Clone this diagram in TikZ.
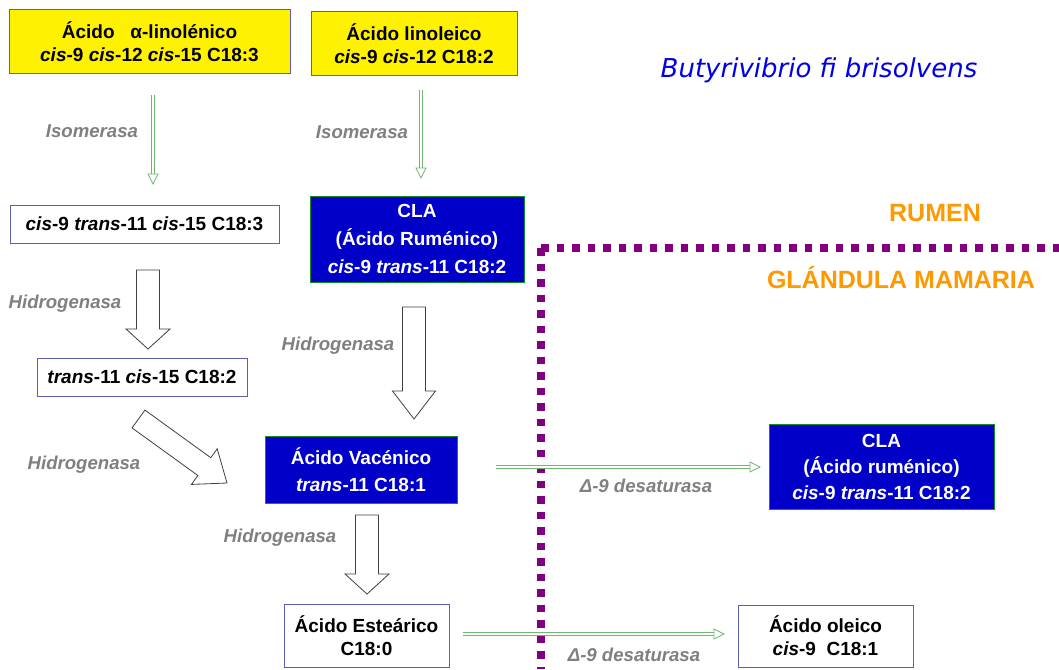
\documentclass[tikz,border=0pt]{standalone}
\usepackage{fontspec}
\setmainfont{Liberation Sans}
\newfontfamily\djv{DejaVu Sans}
\usetikzlibrary{calc}
\definecolor{boxedge}{RGB}{95,95,175}
\definecolor{dblue}{RGB}{0,0,200}
\definecolor{gedge}{RGB}{20,140,40}
\definecolor{lgreen}{RGB}{110,185,110}
\definecolor{lbl}{RGB}{128,128,128}
\definecolor{orng}{RGB}{255,153,0}
\definecolor{purp}{RGB}{128,0,128}
\definecolor{bact}{RGB}{0,0,230}
\tikzset{
  basebox/.style={inner sep=0pt, align=center, line width=1pt, font=\fontsize{19}{22.5}\selectfont\bfseries},
  ybox/.style={basebox, fill=yellow, draw=boxedge},
  wbox/.style={basebox, fill=white, draw=boxedge},
  bbox/.style={basebox, fill=dblue, draw=gedge, text=white},
  enz/.style={text=lbl, font=\fontsize{18.6}{22}\selectfont\bfseries\itshape},
  region/.style={text=orng, font=\fontsize{25}{30}\selectfont\bfseries},
  harrow/.style={draw=black!75, line width=0.8pt, fill=white, line join=miter},
  sep/.style={draw=purp, line width=7.5pt, dash pattern=on 7.5pt off 8pt},
}
\newcommand\hollowarrow[5]{%
  \draw[harrow] ($(#1)!#4!90:(#2)$) -- ($(#2)!#3!(#1)!#4!90:(#2)$)
    -- ($(#2)!#3!(#1)!#5!90:(#2)$) -- (#2)
    -- ($(#2)!#3!(#1)!#5!-90:(#2)$) -- ($(#2)!#3!(#1)!#4!-90:(#2)$)
    -- ($(#1)!#4!-90:(#2)$) -- cycle;}
\newcommand\greenarrow[2]{%
  \draw[lgreen, line width=0.7pt, double=white, double distance=1.8pt] (#1) -- ($(#2)!10pt!(#1)$);
  \draw[lgreen, line width=0.7pt, fill=white, line join=miter] (#2) -- ($(#2)!10pt!(#1)!5pt!90:(#2)$) -- ($(#2)!10pt!(#1)!5pt!-90:(#2)$) -- cycle;}
\begin{document}
\begin{tikzpicture}[x=1pt, y=-1pt]
\fill[white] (0,0) rectangle (1059,669);
\useasboundingbox (0,0) rectangle (1059,669);

% separator
\draw[sep] (541,248) -- (1059,248);
\draw[sep] (541,248) -- (541,669);

% boxes
\node[ybox, minimum width=281pt, minimum height=63pt] (A) at (149.5,41.5)
  {Ácido \ \ α-linolénico\\ \textit{cis}-9 \textit{cis}-12 \textit{cis}-15 C18:3};
\node[ybox, minimum width=206pt, minimum height=63pt] (B) at (414,43.5)
  {Ácido linoleico\\ \textit{cis}-9 \textit{cis}-12 C18:2};
\node[wbox, minimum width=269pt, minimum height=38pt] (C) at (144.5,224)
  {\textit{cis}-9 \textit{trans}-11 \textit{cis}-15 C18:3};
\node[bbox, minimum width=214pt, minimum height=86pt, font=\fontsize{19}{28}\selectfont\bfseries] (D) at (417,239)
  {CLA\\ (Ácido Ruménico)\\ \textit{cis}-9 \textit{trans}-11 C18:2};
\node[wbox, minimum width=210pt, minimum height=38pt] (E) at (142,377)
  {\textit{trans}-11 \textit{cis}-15 C18:2};
\node[bbox, minimum width=192pt, minimum height=67pt, font=\fontsize{19}{27}\selectfont\bfseries] (F) at (361,469.5)
  {Ácido Vacénico\\ \textit{trans}-11 C18:1};
\node[wbox, minimum width=165pt, minimum height=63pt, font=\fontsize{19}{23}\selectfont\bfseries] (G) at (366.5,635.5)
  {Ácido Esteárico\\ C18:0};
\node[bbox, minimum width=225pt, minimum height=85pt, font=\fontsize{19}{26}\selectfont\bfseries] (H) at (881.5,466.5)
  {CLA\\ (Ácido ruménico)\\ \textit{cis}-9 \textit{trans}-11 C18:2};
\node[wbox, minimum width=175pt, minimum height=62pt, font=\fontsize{19}{23}\selectfont\bfseries] (I) at (825.5,636)
  {Ácido oleico\\ \textit{cis}-9 \ C18:1};

% titles
\node[text=bact, font=\djv\itshape\fontsize{26}{30}\selectfont] (bac) at (819,70) {Butyrivibrio fi brisolvens};
\node[region] (rumen) at (935,213) {RUMEN};
\node[region] (glandula) at (901,278) {GLÁNDULA MAMARIA};

% connector end points
\coordinate (i1s) at (153,95);   \coordinate (i1t) at (153,184);
\coordinate (i2s) at (421,90);   \coordinate (i2t) at (421,178);
\coordinate (h1s) at (148,270);  \coordinate (h1t) at (148,349);
\coordinate (h2s) at (414,307);  \coordinate (h2t) at (414,419);
\coordinate (h3s) at (138.5,419);\coordinate (h3t) at (227,483);
\coordinate (h4s) at (367,515);  \coordinate (h4t) at (367,594);
\coordinate (d1s) at (496,467);  \coordinate (d1t) at (760,467);
\coordinate (d2s) at (463,634);  \coordinate (d2t) at (724,634);

% green thin arrows
\greenarrow{i1s}{i1t}
\greenarrow{i2s}{i2t}
\greenarrow{d1s}{d1t}
\greenarrow{d2s}{d2t}

% hollow arrows
\hollowarrow{h1s}{h1t}{20pt}{11.5pt}{22pt}
\hollowarrow{h2s}{h2t}{28pt}{11.5pt}{21.5pt}
\hollowarrow{h3s}{h3t}{28pt}{11pt}{22pt}
\hollowarrow{h4s}{h4t}{20pt}{11.5pt}{22pt}

% enzyme labels
\node[enz] (iso1) at (92,131) {Isomerasa};
\node[enz] (iso2) at (362,132) {Isomerasa};
\node[enz] (hid1) at (65,304) {Hidrogenasa};
\node[enz] (hid2) at (338,346) {Hidrogenasa};
\node[enz] (hid3) at (84,465) {Hidrogenasa};
\node[enz] (hid4) at (280,538) {Hidrogenasa};
\node[enz] (des1) at (646,486) {Δ-9 desaturasa};
\node[enz] (des2) at (634,655) {Δ-9 desaturasa};
\end{tikzpicture}
\end{document}
